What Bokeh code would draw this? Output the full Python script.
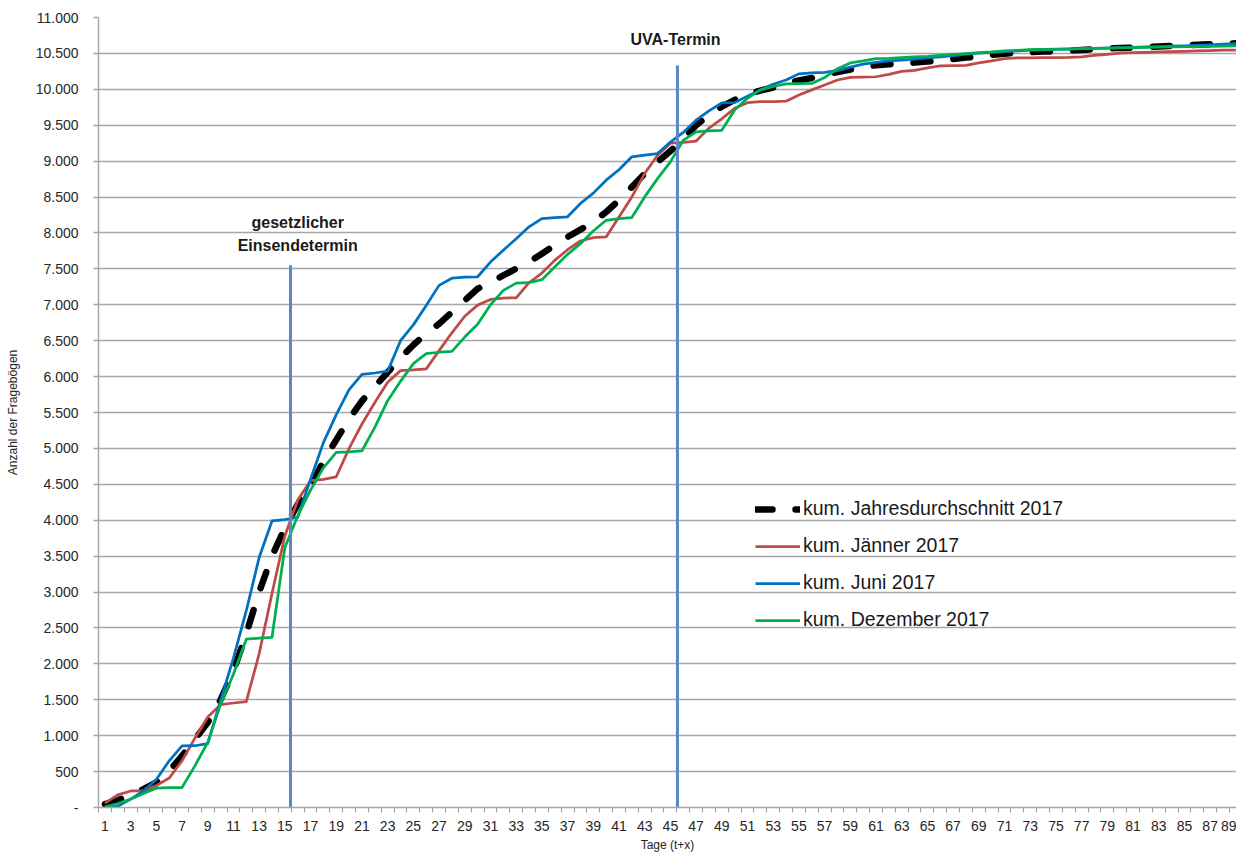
from bokeh.plotting import figure
from bokeh.models import FixedTicker, Legend, LegendItem, Label, Range1d
from bokeh.embed import file_html
from bokeh.resources import INLINE

# ---------------- data ----------------
tage = list(range(1, 90))

jahresdurchschnitt = [
    46, 100, 176, 255, 348, 510, 719, 951, 1183, 1500,
    1900, 2420, 3000, 3500, 3890, 4222, 4470, 4820, 5120, 5410,
    5660, 5860, 6060, 6260, 6440, 6600, 6735, 6897, 7060, 7223,
    7316, 7409, 7502, 7595, 7711, 7827, 7944, 8046, 8153, 8292,
    8455, 8641, 8827, 8990, 9140, 9310, 9500, 9641, 9758, 9852,
    9931, 9983, 10025, 10086, 10125, 10158, 10195, 10242, 10274, 10312,
    10335, 10349, 10358, 10372, 10386, 10405, 10423, 10442, 10460, 10480,
    10495, 10508, 10518, 10525, 10530, 10539, 10549, 10558, 10567, 10577,
    10581, 10590, 10597, 10605, 10614, 10620, 10628, 10635, 10640,
]

jaenner = [
    60, 175, 230, 232, 305, 410, 650, 965, 1260, 1432,
    1455, 1475, 2140, 2980, 3780, 4280, 4550, 4570, 4605, 5000,
    5340, 5640, 5920, 6083, 6092, 6106, 6362, 6610, 6840, 6995,
    7074, 7093, 7097, 7307, 7442, 7618, 7767, 7888, 7934, 7944,
    8223, 8502, 8827, 9083, 9250, 9262, 9280, 9460, 9590, 9735,
    9814, 9828, 9830, 9835, 9922, 9992, 10060, 10130, 10165, 10170,
    10175, 10209, 10250, 10265, 10298, 10326, 10330, 10333, 10367, 10395,
    10428, 10437, 10438, 10440, 10442, 10444, 10451, 10474, 10488, 10505,
    10511, 10516, 10521, 10525, 10530, 10535, 10540, 10544, 10546,
]

juni = [
    5, 15, 116, 232, 390, 650, 858, 860, 890, 1490,
    2080, 2740, 3480, 3990, 4010, 4040, 4570, 5080, 5470, 5820,
    6030, 6050, 6075, 6500, 6720, 6990, 7270, 7370, 7385, 7390,
    7595, 7760, 7920, 8085, 8200, 8215, 8225, 8410, 8555, 8735,
    8880, 9060, 9085, 9105, 9265, 9400, 9570, 9700, 9810, 9815,
    9905, 9990, 10070, 10130, 10215, 10230, 10235, 10260, 10310, 10350,
    10375, 10395, 10405, 10420, 10437, 10450, 10470, 10490, 10505, 10515,
    10525, 10535, 10545, 10550, 10555, 10560, 10565, 10570, 10575, 10580,
    10585, 10590, 10595, 10600, 10605, 10612, 10620, 10628, 10635,
]

dezember = [
    10, 56, 116, 195, 270, 278, 278, 580, 905, 1438,
    1856, 2343, 2357, 2370, 3620, 4060, 4420, 4730, 4944, 4953,
    4967, 5293, 5665, 5934, 6180, 6320, 6339, 6350, 6550, 6730,
    7000, 7200, 7302, 7307, 7349, 7525, 7702, 7851, 8027, 8176,
    8200, 8214, 8502, 8757, 8990, 9290, 9407, 9421, 9430, 9711,
    9875, 9992, 10039, 10075, 10080, 10082, 10163, 10288, 10367, 10395,
    10428, 10432, 10442, 10451, 10460, 10474, 10488, 10498, 10511, 10521,
    10535, 10544, 10553, 10555, 10558, 10562, 10566, 10570, 10574, 10578,
    10581, 10584, 10587, 10590, 10593, 10596, 10599, 10602, 10605,
]

series_labels = [
    "kum. Jahresdurchschnitt 2017",
    "kum. Jänner 2017",
    "kum. Juni 2017",
    "kum. Dezember 2017",
]

y_ticks = list(range(0, 11001, 500))
y_tick_labels = ["-", "500", "1.000", "1.500", "2.000", "2.500", "3.000", "3.500",
                 "4.000", "4.500", "5.000", "5.500", "6.000", "6.500", "7.000",
                 "7.500", "8.000", "8.500", "9.000", "9.500", "10.000", "10.500", "11.000"]
x_tick_days = list(range(1, 90, 2))
x_boundaries = [d - 0.5 for d in range(1, 91)]

termin_x = [15.44, 45.55]
termin_top = [7550, 10330]

# ---------------- figure ----------------
FONT = "Liberation Sans"
GRID = "#A6A6A6"

p = figure(width=1236, height=855, output_backend="svg", toolbar_location=None,
           x_range=Range1d(0.5, 89.05), y_range=Range1d(0, 11000),
           min_border_left=98, min_border_right=0, min_border_top=17, min_border_bottom=48)
p.outline_line_color = None
p.background_fill_color = "white"

p.xgrid.visible = False
p.ygrid.grid_line_color = GRID
p.ygrid.grid_line_width = 1.5
p.ygrid.ticker = FixedTicker(ticks=y_ticks)

# y axis
p.yaxis.ticker = FixedTicker(ticks=y_ticks)
p.yaxis.major_label_overrides = dict(zip(y_ticks, y_tick_labels))
p.yaxis.axis_line_color = GRID
p.yaxis.axis_line_width = 1.5
p.yaxis.major_tick_line_color = GRID
p.yaxis.major_tick_line_width = 1.5
p.yaxis.major_tick_out = 5
p.yaxis.major_tick_in = 0
p.yaxis.minor_tick_line_color = None
p.yaxis.major_label_standoff = 15
p.yaxis.major_label_text_font = FONT
p.yaxis.major_label_text_font_size = "14px"
p.yaxis.major_label_text_color = "#262626"
p.yaxis.axis_label = "Anzahl der Fragebögen"
p.yaxis.axis_label_text_font = FONT
p.yaxis.axis_label_text_font_size = "12px"
p.yaxis.axis_label_text_font_style = "normal"
p.yaxis.axis_label_text_color = "#262626"
p.yaxis.axis_label_standoff = 13

# x axis
p.xaxis.ticker = FixedTicker(ticks=x_tick_days, minor_ticks=x_boundaries)
p.xaxis.axis_line_color = GRID
p.xaxis.axis_line_width = 1.5
p.xaxis.major_tick_out = 0
p.xaxis.major_tick_in = 0
p.xaxis.minor_tick_out = 5
p.xaxis.minor_tick_in = 0
p.xaxis.minor_tick_line_color = GRID
p.xaxis.minor_tick_line_width = 1.2
p.xaxis.major_label_standoff = 8
p.xaxis.major_label_text_font = FONT
p.xaxis.major_label_text_font_size = "14px"
p.xaxis.major_label_text_color = "#262626"
p.xaxis.axis_label = "Tage (t+x)"
p.xaxis.axis_label_text_font = FONT
p.xaxis.axis_label_text_font_size = "12px"
p.xaxis.axis_label_text_font_style = "normal"
p.xaxis.axis_label_text_color = "#262626"
p.xaxis.axis_label_standoff = 4

# lines
r_avg = p.line(tage, jahresdurchschnitt, line_color="black", line_width=6.5,
               line_dash="17 23", line_cap="round", line_join="round")
r_jan = p.line(tage, jaenner, line_color="#BE4B48", line_width=2.75, line_join="round")
r_jun = p.line(tage, juni, line_color="#0070C0", line_width=2.75, line_join="round")
r_dez = p.line(tage, dezember, line_color="#00B050", line_width=2.75, line_join="round")

# deadline markers
p.segment(x0=termin_x, y0=[0, 0], x1=termin_x, y1=termin_top,
          line_color="#5A87C6", line_width=3)

for txt, xx, yy in [("gesetzlicher", 16.0, 8145), ("Einsendetermin", 16.0, 7825),
                    ("UVA-Termin", 45.4, 10693)]:
    p.add_layout(Label(x=xx, y=yy, text=txt, text_align="center", text_baseline="middle",
                       text_font=FONT, text_font_size="16px", text_font_style="bold",
                       text_color="#1a1a1a"))

legend = Legend(items=[LegendItem(label=l, renderers=[r]) for l, r in
                       zip(series_labels, [r_avg, r_jan, r_jun, r_dez])],
                location=(657, 176), orientation="vertical",
                label_text_font=FONT, label_text_font_size="19.5px", label_text_color="#1a1a1a",
                glyph_width=45, glyph_height=20, label_height=20, spacing=14,
                padding=0, margin=0, label_standoff=3,
                border_line_color=None, background_fill_alpha=0)
p.add_layout(legend)

open("out.html", "w").write(file_html(p, INLINE))
